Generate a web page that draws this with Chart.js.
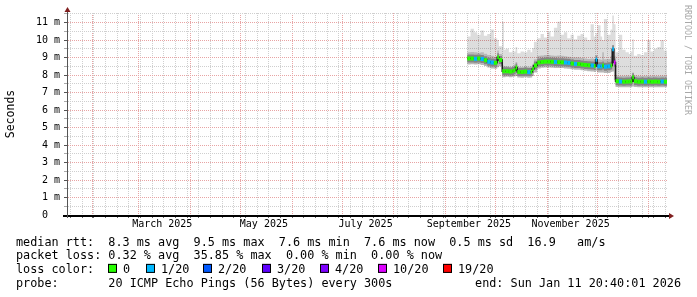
<!DOCTYPE html>
<html><head><meta charset="utf-8">
<script src="https://cdn.jsdelivr.net/npm/chart.js@4"></script>
<style>html,body{margin:0;padding:0;background:#fff}#wrap{width:697px;height:297px;position:relative}</style>
</head><body><div id="wrap"><canvas id="c"></canvas></div>
<script>
// ---- data ----
const dates = [
 '2025-09-14','2025-09-16','2025-09-18','2025-09-20','2025-09-22','2025-09-24','2025-09-26','2025-09-28','2025-09-30','2025-10-02',
 '2025-10-03','2025-10-05','2025-10-06','2025-10-07','2025-10-09','2025-10-11','2025-10-12','2025-10-13','2025-10-14','2025-10-16',
 '2025-10-18','2025-10-20','2025-10-22','2025-10-23','2025-10-24','2025-10-26','2025-10-28','2025-10-30','2025-11-01','2025-11-03',
 '2025-11-05','2025-11-07','2025-11-09','2025-11-11','2025-11-13','2025-11-15','2025-11-17','2025-11-19','2025-11-21','2025-11-23',
 '2025-11-25','2025-11-27','2025-11-29','2025-11-30','2025-12-01','2025-12-03','2025-12-04','2025-12-05','2025-12-07','2025-12-09',
 '2025-12-10','2025-12-11','2025-12-12','2025-12-14','2025-12-16','2025-12-18','2025-12-20','2025-12-21','2025-12-22','2025-12-23',
 '2025-12-25','2025-12-27','2025-12-29','2025-12-31','2026-01-02','2026-01-04','2026-01-06','2026-01-08','2026-01-10','2026-01-11T20:40:01'
];
// median rtt, milliseconds
const median = [
 8.95, 8.95, 8.93, 8.95, 8.92, 8.85, 8.76, 8.72, 8.70, 9.02,
 8.86, 8.22, 8.22, 8.22, 8.20, 8.23, 8.28, 8.44, 8.18, 8.18,
 8.20, 8.17, 8.19, 8.35, 8.55, 8.72, 8.75, 8.77, 8.77, 8.76,
 8.75, 8.74, 8.73, 8.72, 8.70, 8.66, 8.64, 8.63, 8.60, 8.58,
 8.56, 8.55, 8.52, 8.88, 8.50, 8.50, 8.55, 8.48, 8.50, 8.55,
 9.48, 8.72, 7.65, 7.63, 7.62, 7.63, 7.64, 7.64, 7.88, 7.65,
 7.62, 7.63, 7.62, 7.63, 7.62, 7.63, 7.62, 7.63, 7.62, 7.62
];
// lost pings out of 20
const loss = [
 0,0,1,0,1,0,1,1,0,0,
 0,0,0,0,0,0,0,0,0,0,
 0,1,0,0,0,0,0,0,0,0,
 1,0,0,1,1,0,1,0,0,0,
 0,1,0,1,1,1,0,1,1,0,
 1,10,0,1,0,0,0,0,0,0,
 0,0,1,0,0,0,0,1,0,0
];
// smoke: lowest ping, upper edge of the dense band, highest ping (ms)
const smokeLow = [
 8.60, 8.62, 8.60, 8.62, 8.58, 8.52, 8.44, 8.38, 8.36, 8.45,
 8.50, 7.88, 7.88, 7.90, 7.88, 7.90, 7.92, 7.95, 7.86, 7.85,
 7.87, 7.85, 7.86, 7.95, 8.15, 8.38, 8.42, 8.43, 8.44, 8.42,
 8.40, 8.40, 8.40, 8.38, 8.36, 8.33, 8.30, 8.30, 8.27, 8.25,
 8.22, 8.20, 8.18, 8.25, 8.15, 8.15, 8.15, 8.12, 8.12, 8.18,
 8.20, 7.70, 7.32, 7.30, 7.30, 7.30, 7.31, 7.31, 7.35, 7.32,
 7.30, 7.30, 7.30, 7.31, 7.30, 7.30, 7.30, 7.31, 7.30, 7.30
];
const smokeHigh = [
 9.30, 9.32, 9.30, 9.28, 9.30, 9.22, 9.15, 9.10, 9.05, 9.40,
 9.20, 8.55, 8.52, 8.50, 8.48, 8.52, 8.60, 8.75, 8.48, 8.46,
 8.50, 8.47, 8.50, 8.65, 8.90, 9.10, 9.12, 9.15, 9.15, 9.12,
 9.10, 9.12, 9.10, 9.08, 9.05, 9.02, 9.00, 9.00, 8.98, 8.95,
 8.92, 8.95, 8.90, 9.15, 8.90, 8.88, 9.30, 8.90, 8.92, 9.10,
 9.70, 9.10, 7.98, 7.95, 7.95, 7.96, 7.96, 7.96, 8.15, 7.97,
 7.95, 7.95, 7.95, 7.96, 7.95, 7.95, 7.95, 7.96, 7.95, 7.95
];
const smokeMax = [
 10.20, 10.65, 10.45, 10.30, 10.55, 10.25, 10.35, 10.60, 10.10, 10.00,
 9.65, 11.05, 9.45, 9.50, 9.30, 9.40, 9.35, 9.60, 9.25, 9.35,
 9.30, 9.45, 9.30, 9.55, 9.90, 10.10, 10.35, 10.15, 10.50, 10.20,
 10.70, 11.05, 10.30, 10.45, 10.10, 10.30, 10.05, 10.25, 10.35, 10.15,
 10.00, 10.90, 10.20, 10.40, 10.85, 10.20, 10.00, 11.20, 10.30, 10.60,
 11.40, 10.90, 9.30, 10.30, 9.45, 9.30, 9.20, 9.35, 10.05, 9.10,
 9.20, 9.15, 9.30, 10.00, 9.35, 9.50, 9.60, 10.00, 9.40, 9.40
];
const xLabelDates = ['2025-03-15','2025-05-15','2025-07-15','2025-09-15','2025-11-15'];
const xLabels = ['March 2025','May 2025','July 2025','September 2025','November 2025'];
const yLabelValues = [0,1,2,3,4,5,6,7,8,9,10,11];
const endTime = '2026-01-11T20:40:01';
const spanDays = 360;
const lossKeys = [0,1,2,3,4,10,19];
const lossLegend = ['0','1/20','2/20','3/20','4/20','10/20','19/20'];
const lossColors = ['#26ff00','#00b8ff','#0059ff','#5e00ff','#7e00ff','#dd00ff','#ff0000'];
const statLines = [
 'median rtt:  8.3 ms avg  9.5 ms max  7.6 ms min  7.6 ms now  0.5 ms sd  16.9   am/s',
 'packet loss: 0.32 % avg  35.85 % max  0.00 % min  0.00 % now'
];
const probeText = 'probe:       20 ICMP Echo Pings (56 Bytes) every 300s';
const endText = 'end: Sun Jan 11 20:40:01 2026';
const watermark = 'RRDTOOL / TOBI OETIKER';

// ---- helpers ----
const DAY = 86400000;
const toMs = s => Date.parse(s.length > 10 ? s + 'Z' : s + 'T00:00:00Z');
const endMs = toMs(endTime);
const startMs = endMs - spanDays * DAY;
const xs = dates.map(toMs);
const pts = arr => arr.map((v, i) => ({x: xs[i], y: v}));
// horizontal-only pieces of the median (each value held until the next sample)
const flatPts = arr => {
  const out = [];
  for (let i = 0; i < arr.length - 1; i++) {
    out.push({x: xs[i], y: arr[i]}, {x: xs[i + 1], y: arr[i]}, {x: xs[i + 1], y: null});
  }
  return out;
};
function lossColor(n) {
  let c = lossColors[0];
  lossKeys.forEach((k, i) => { if (n >= k) c = lossColors[i]; });
  return c;
}

// x ticks: weekly (Sunday) minor lines, monthly major lines, mid-month labels
const tickInfo = new Map();
{
  const s = new Date(startMs);
  for (let t = Date.UTC(s.getUTCFullYear(), s.getUTCMonth(), s.getUTCDate()); t <= endMs; t += DAY) {
    if (t < startMs) continue;
    const d = new Date(t);
    if (d.getUTCDate() === 1) tickInfo.set(t, {kind: 'month', label: ''});
    else if (d.getUTCDay() === 0) tickInfo.set(t, {kind: 'week', label: ''});
  }
  xLabelDates.forEach((s2, i) => {
    const t = toMs(s2);
    const e = tickInfo.get(t);
    if (e) e.label = xLabels[i]; else tickInfo.set(t, {kind: 'label', label: xLabels[i]});
  });
}
const xTickValues = [...tickInfo.keys()].sort((a, b) => a - b);
const yGridValues = [];
for (let i = 0; i <= 23; i++) yGridValues.push(i / 2);

const MAJOR = '#e8a4a4', MINOR = '#cfcfcf';
const monoFont = 'DejaVu Sans Mono';

const overlay = {
  id: 'overlay',
  afterDraw(chart) {
    const ctx = chart.ctx, a = chart.chartArea;
    ctx.save();
    // axes
    ctx.fillStyle = '#000';
    ctx.fillRect(a.left - 4, a.bottom, a.right + 2 - (a.left - 4), 2);
    ctx.strokeStyle = '#555'; ctx.lineWidth = 1;
    ctx.beginPath(); ctx.moveTo(a.left + 0.5, a.bottom + 3); ctx.lineTo(a.left + 0.5, a.top - 1); ctx.stroke();
    // arrows
    ctx.fillStyle = '#801f1f';
    ctx.beginPath(); ctx.moveTo(a.left + 0.5, a.top - 6); ctx.lineTo(a.left - 2.5, a.top - 1); ctx.lineTo(a.left + 3.5, a.top - 1); ctx.closePath(); ctx.fill();
    ctx.beginPath(); ctx.moveTo(a.right + 7, a.bottom + 1); ctx.lineTo(a.right + 2, a.bottom - 2); ctx.lineTo(a.right + 2, a.bottom + 4); ctx.closePath(); ctx.fill();
    // watermark
    ctx.save();
    ctx.translate(687, 5); ctx.rotate(Math.PI / 2);
    ctx.fillStyle = '#a8a8a8'; ctx.font = '8.3px "' + monoFont + '"';
    ctx.textBaseline = 'middle'; ctx.textAlign = 'left';
    ctx.fillText(watermark, 0, 0);
    ctx.restore();
    // legend
    ctx.fillStyle = '#000'; ctx.font = '11.8px "' + monoFont + '"';
    ctx.textBaseline = 'alphabetic'; ctx.textAlign = 'left';
    const base = [245.5, 259.2, 272.9, 286.6];
    ctx.fillText(statLines[0], 16, base[0]);
    ctx.fillText(statLines[1], 16, base[1]);
    ctx.fillText('loss color:', 16, base[2]);
    const swX = [108, 146, 203, 262, 320, 378, 443];
    lossLegend.forEach((lab, i) => {
      const x = swX[i];
      ctx.fillStyle = lossColors[i];
      ctx.fillRect(x, base[2] - 9, 9, 9);
      ctx.strokeStyle = '#000'; ctx.lineWidth = 1;
      ctx.strokeRect(x + 0.5, base[2] - 8.5, 8, 8);
      ctx.fillStyle = '#000';
      ctx.fillText(lab, x + 15, base[2]);
    });
    ctx.fillText(probeText, 16, base[3]);
    ctx.textAlign = 'right';
    ctx.fillText(endText, 681, base[3]);
    ctx.restore();
  }
};

const line = (data, extra) => Object.assign({
  data, stepped: false, pointRadius: 0, pointHoverRadius: 0, borderWidth: 0,
  borderColor: 'rgba(0,0,0,0)', fill: false, tension: 0, spanGaps: false
}, extra);

new Chart(document.getElementById('c'), {
  type: 'line',
  data: {
    datasets: [
      line(flatPts(median), {label: 'median', borderWidth: 4, borderColor: lossColors[0], order: 0,
        borderCapStyle: 'butt', segment: {borderColor: c => lossColor(loss[Math.floor(c.p0DataIndex / 3)])}}),
      line(pts(median), {label: 'steps', stepped: true, borderWidth: 1.5, borderColor: '#1c1c1c', order: 1}),
      line(flatPts(median), {label: 'core', borderWidth: 8, borderColor: '#858585', borderCapStyle: 'butt', order: 2}),
      line(pts(smokeHigh), {label: 'high', stepped: true, fill: {target: 5}, backgroundColor: 'rgba(0,0,0,0.17)', order: 3}),
      line(pts(smokeMax), {label: 'max', stepped: true, fill: {target: 5}, backgroundColor: 'rgba(0,0,0,0.135)', order: 4}),
      line(pts(smokeLow), {label: 'low', stepped: true, order: 5})
    ]
  },
  options: {
    responsive: true, maintainAspectRatio: false, animation: false, devicePixelRatio: 1,
    layout: {padding: {top: 13, right: 30, left: 0, bottom: 0}},
    plugins: {legend: {display: false}, tooltip: {enabled: false}, title: {display: false}},
    events: [],
    scales: {
      x: {
        type: 'linear', min: startMs, max: endMs,
        afterBuildTicks: s => { s.ticks = xTickValues.map(v => ({value: v})); },
        afterFit: s => { s.height = 82; },
        ticks: {autoSkip: false, maxRotation: 0, minRotation: 0, padding: 0, color: '#000',
          font: {family: monoFont, size: 10},
          callback: v => (tickInfo.get(v) || {}).label || ''},
        grid: {lineWidth: 1, tickLength: 3,
          color: c => { const k = (tickInfo.get(c.tick.value) || {}).kind; return k === 'month' ? MAJOR : k === 'week' ? MINOR : 'rgba(0,0,0,0)'; },
          tickColor: c => { const k = (tickInfo.get(c.tick.value) || {}).kind; return k === 'label' ? 'rgba(0,0,0,0)' : '#666'; }},
        border: {display: true, color: '#000', width: 1, dash: [1, 1]}
      },
      y: {
        min: 0, max: 11.55,
        afterBuildTicks: s => { s.ticks = yGridValues.map(v => ({value: v})); },
        afterFit: s => { s.width = 67; },
        ticks: {autoSkip: false, padding: 4, color: '#000', font: {family: monoFont, size: 10},
          callback: v => yLabelValues.includes(v) ? (v === 0 ? '0  ' : v + ' m') : ''},
        grid: {lineWidth: 1, tickLength: 3,
          color: c => Number.isInteger(c.tick.value) ? MAJOR : MINOR,
          tickColor: c => Number.isInteger(c.tick.value) ? '#555' : '#aaa'},
        border: {display: true, color: '#555', width: 1, dash: [1, 1]},
        title: {display: true, text: 'Seconds', color: '#000', font: {family: monoFont, size: 11.5}, padding: {top: 4, bottom: 0}}
      }
    }
  },
  plugins: [overlay]
});
</script>
</body></html>
